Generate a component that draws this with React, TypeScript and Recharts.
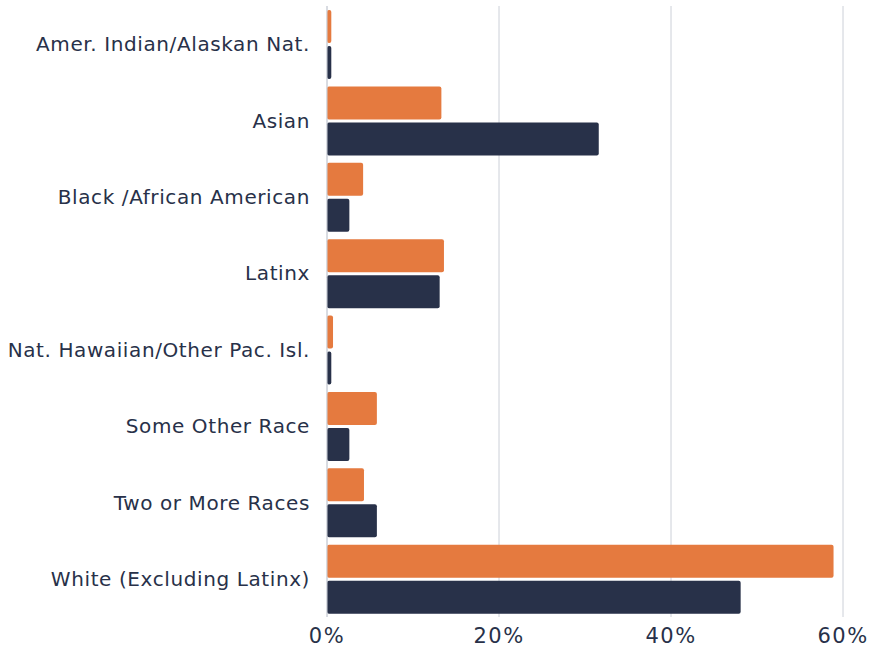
import { Bar, BarChart, CartesianGrid, XAxis, YAxis } from "recharts"

const categories = [
  "Amer. Indian/Alaskan Nat.",
  "Asian",
  "Black /African American",
  "Latinx",
  "Nat. Hawaiian/Other Pac. Isl.",
  "Some Other Race",
  "Two or More Races",
  "White (Excluding Latinx)",
]
const orangeValues = [0.5, 13.3, 4.2, 13.6, 0.7, 5.8, 4.3, 58.9]
const navyValues = [0.5, 31.6, 2.6, 13.1, 0.5, 2.6, 5.8, 48.1]
const xTicks = [0, 20, 40, 60]

const data = categories.map((name, i) => ({
  name,
  orange: orangeValues[i],
  navy: navyValues[i],
}))

const textColor = "#283149"
const font = "'DejaVu Sans', sans-serif"

export default function App() {
  return (
    <div style={{ position: "absolute", left: 0, top: 0, fontFamily: font }}>
      <BarChart
        width={870}
        height={653}
        data={data}
        layout="vertical"
        margin={{ top: 6, right: 27, left: 0, bottom: 0 }}
        barGap={3}
        barSize={33}
      >
        <CartesianGrid horizontal={false} stroke="#ccd0d8" />
        <XAxis
          type="number"
          domain={[0, 60]}
          ticks={xTicks}
          tickFormatter={(v) => `${v}%`}
          height={36}
          axisLine={false}
          tickLine={false}
          tickSize={0}
          tickMargin={11}
          tick={{ fill: textColor, fontSize: 21, fontFamily: font, letterSpacing: 1.5 }}
        />
        <YAxis
          type="category"
          dataKey="name"
          width={327}
          axisLine={{ stroke: "#ccd0d8" }}
          tickLine={false}
          tickSize={0}
          tickMargin={17}
          tick={{ fill: textColor, fontSize: 20, fontFamily: font, letterSpacing: 0.6 }}
        />
        <Bar dataKey="orange" fill="#e57a3f" radius={2} isAnimationActive={false} />
        <Bar dataKey="navy" fill="#283149" radius={2} isAnimationActive={false} />
      </BarChart>
    </div>
  )
}
